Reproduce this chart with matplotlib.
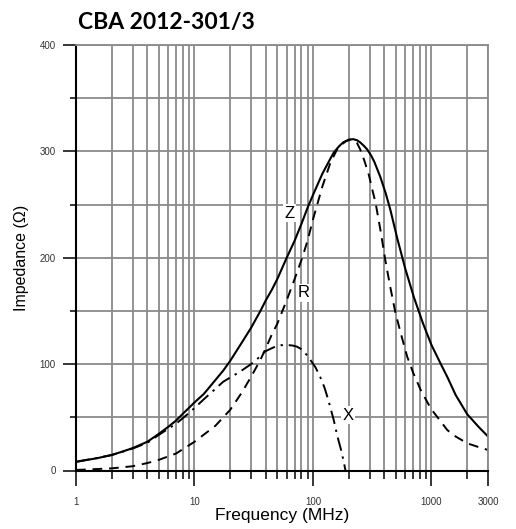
import matplotlib
matplotlib.use("Agg")
import matplotlib.pyplot as plt
from matplotlib.ticker import FixedLocator, NullFormatter, FixedFormatter

# ---- data ----
z_freq = [1, 1.5, 2, 2.5, 3, 4, 5, 6, 7, 8, 9, 10, 12, 15, 17.5, 20, 25, 30, 36, 40, 45,
          50, 60, 70, 80, 90, 100, 120, 140, 150, 165, 180, 200, 218, 235, 250, 270, 286,
          310, 330, 370, 410, 450, 515, 600, 710, 850, 1000, 1200, 1360, 1600, 2000, 2500,
          3000]
z_vals = [8.3, 11.5, 14.6, 18, 21, 27, 34.5, 41, 47, 53.5, 59, 64, 72, 85, 94, 103, 120,
          134, 150, 160, 170, 180, 200, 216, 232, 247, 259, 279, 293, 299, 304.5, 308.5,
          311, 311.5, 310.5, 308.5, 305, 302, 296, 290, 276, 261, 245, 218, 190, 163, 138,
          118, 100, 88, 71, 53, 41, 32]

r_freq = [1, 2, 3, 4, 5, 7, 10, 15, 20, 25, 30, 36, 40, 45, 50, 60, 70, 80, 90, 100, 120,
          140, 160, 175, 190, 205, 220, 235, 250, 270, 296, 320, 337, 371, 409, 450, 497,
          560, 624, 700, 809, 990, 1200, 1360, 1600, 2000, 2500, 3000]
r_vals = [0.5, 2, 4, 7, 10, 16, 27, 42, 57, 73, 88, 104, 115, 128, 138, 160, 180, 198,
          216, 236, 267, 289, 302, 306.5, 309.5, 311, 311, 308, 302, 292, 278, 262, 252,
          226, 197, 172, 148, 126, 107, 92, 76, 58, 46, 38, 32, 25.6, 22, 19.3]

x_freq = [1, 2, 3, 4, 5, 7, 9.2, 12, 17.5, 24.3, 30, 33.7, 39.6, 44, 48, 54, 60, 67, 73,
          80, 88, 95, 105, 115, 125, 135, 150, 160, 172, 182, 188]
x_vals = [8, 14.5, 20.6, 26, 33.5, 44, 55, 67, 83.5, 93, 100, 104.6, 112, 114.5, 116.4,
          117.8, 118, 117.5, 116.5, 114, 109, 104, 97, 88, 78, 66, 47, 33, 20, 8, 0]

x_major = [1, 10, 100, 1000, 3000]
x_major_labels = ["1", "10", "100", "1000", "3000"]
y_major = [0, 100, 200, 300, 400]
y_minor = [50, 150, 250, 350]

title = "CBA 2012-301/3"
xlabel = "Frequency (MHz)"
ylabel = "Impedance (\u03a9)"
curve_labels = [("Z", 63, 242), ("R", 83, 167), ("X", 199, 52)]

# ---- figure ----
W, H = 516, 529
fig = plt.figure(figsize=(W / 100, H / 100), dpi=100)
L, R_, T, B = 76, 488, 45, 470.5
ax = fig.add_axes([L / W, 1 - B / H, (R_ - L) / W, (B - T) / H])

ax.set_xscale("log")
ax.set_xlim(1, 3000)
ax.set_ylim(0, 400)

x_minor = [m * d for d in (1, 10, 100) for m in range(2, 10)] + [2000]
ax.xaxis.set_major_locator(FixedLocator(x_major))
ax.xaxis.set_major_formatter(FixedFormatter(x_major_labels))
ax.xaxis.set_minor_locator(FixedLocator(x_minor))
ax.xaxis.set_minor_formatter(NullFormatter())
ax.yaxis.set_major_locator(FixedLocator(y_major))
ax.yaxis.set_minor_locator(FixedLocator(y_minor))

grid_col = "#8a8a8a"
ax.grid(True, which="both", color=grid_col, linewidth=1.3)
ax.set_axisbelow(True)

for s in ("left", "bottom"):
    ax.spines[s].set_color("black")
    ax.spines[s].set_linewidth(1.5)
for s in ("top", "right"):
    ax.spines[s].set_color(grid_col)
    ax.spines[s].set_linewidth(1.3)

ax.tick_params(axis="both", which="major", direction="out", color="black", width=1.1,
               labelsize=7, labelcolor="#333333")
ax.tick_params(axis="y", which="major", length=9.5, pad=5)
ax.tick_params(axis="y", which="minor", length=4.5, width=1.1, color="black")
ax.tick_params(axis="x", which="major", length=11, pad=8)
ax.tick_params(axis="x", which="minor", length=6, width=1.1, color="black")

ax.plot(z_freq, z_vals, color="black", linewidth=1.5, linestyle="-")
ax.plot(r_freq, r_vals, color="black", linewidth=1.4, linestyle=(0, (5, 3.5)))
ax.plot(x_freq, x_vals, color="black", linewidth=1.4, linestyle=(0, (7, 3, 1.2, 3)))

for txt, fx, fy in curve_labels:
    ax.text(fx, fy, txt, fontsize=12, ha="center", va="center", family="Liberation Sans",
            bbox=dict(facecolor="white", edgecolor="none", pad=1.0))

ax.set_xlabel(xlabel, fontsize=12.5, family="Liberation Sans", labelpad=1)
ax.set_ylabel(ylabel, fontsize=11.5, family="Liberation Sans", labelpad=8)
for lab in ax.get_xticklabels() + ax.get_yticklabels():
    lab.set_family("Liberation Sans")

fig.text(78 / W, 1 - 23 / H, title, fontsize=16.5, fontweight="bold", family="Lato",
         ha="left", va="center")

fig.savefig("out.png", dpi=100)
